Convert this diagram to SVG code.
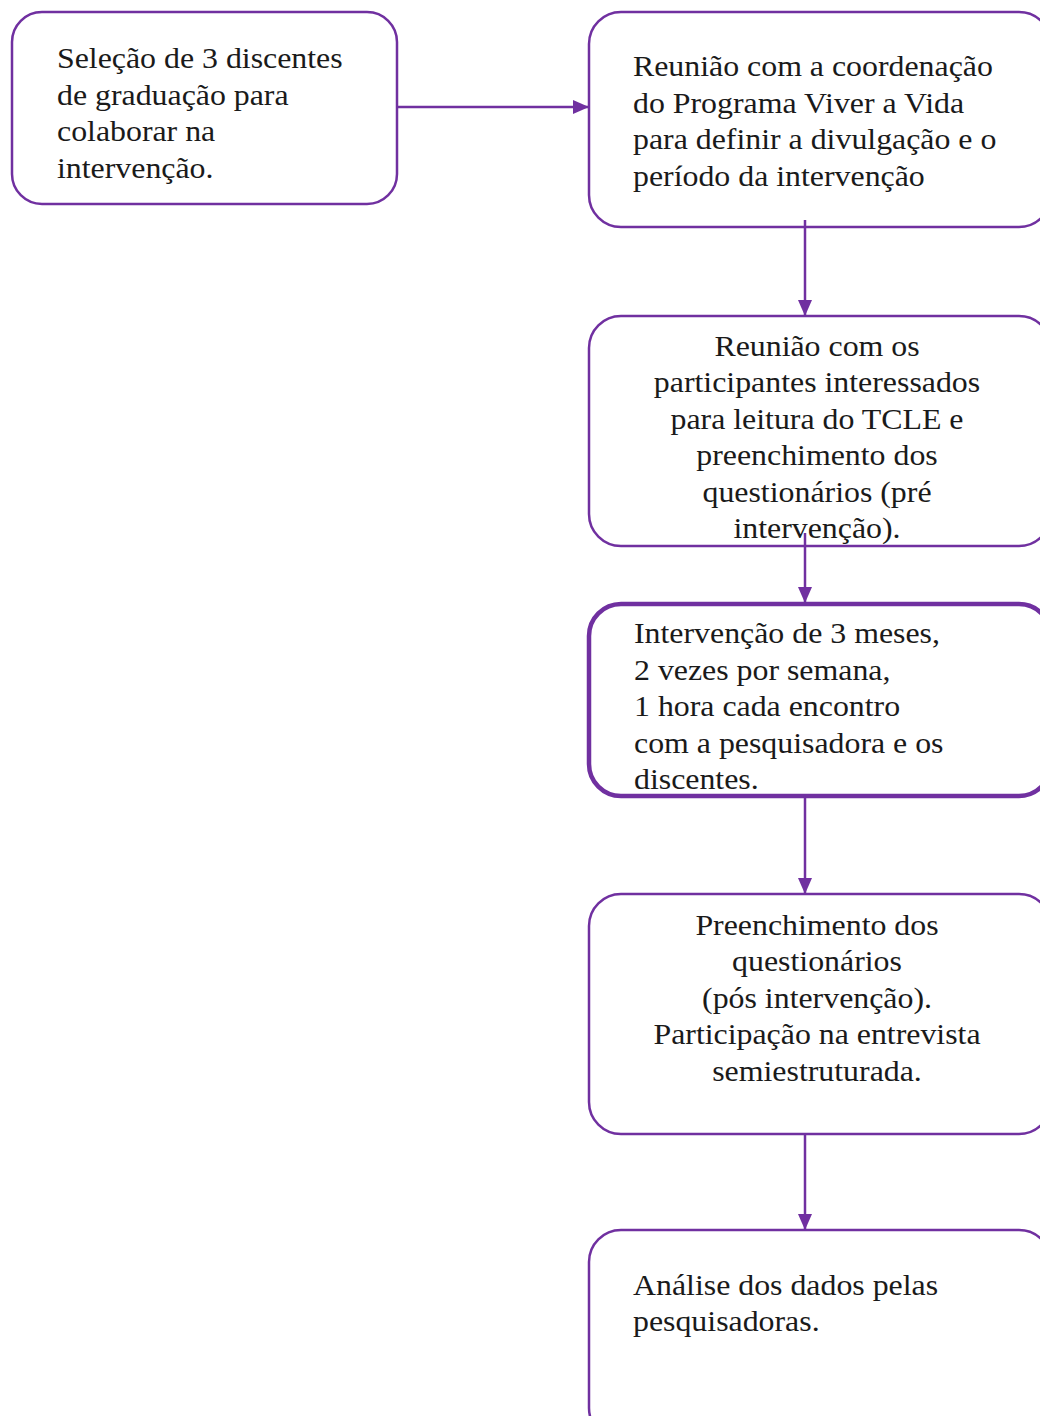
<svg xmlns="http://www.w3.org/2000/svg" width="1040" height="1416" viewBox="0 0 1040 1416">
<style>
.box{fill:#fff;stroke:#7030A0;stroke-width:2.5}
.thick{stroke-width:4.5}
.t{font-family:"Liberation Serif","Times New Roman",serif;font-size:29.5px;fill:#1a1a1a}
.c{text-anchor:middle}
.conn{stroke:#7030A0;stroke-width:2.5;fill:none}
</style>
<defs>
<marker id="a" markerWidth="16" markerHeight="16" refX="16" refY="8" orient="auto" markerUnits="userSpaceOnUse" viewBox="0 0 16 16">
<path d="M0,1 L16,8 L0,15 z" fill="#7030A0"/>
</marker>
</defs>
<g id="n1">
<rect class="box" x="12" y="12" width="385" height="192" rx="30"/>
<text class="t" transform="translate(57 68) scale(1.08 1)">Seleção de 3 discentes</text>
<text class="t" transform="translate(57 105) scale(1.08 1)">de graduação para</text>
<text class="t" transform="translate(57 141) scale(1.08 1)">colaborar na</text>
<text class="t" transform="translate(57 178) scale(1.08 1)">intervenção.</text>
</g>
<g id="n2">
<rect class="box" x="589" y="12" width="462" height="215" rx="32"/>
<text class="t" transform="translate(633 76) scale(1.08 1)">Reunião com a coordenação</text>
<text class="t" transform="translate(633 113) scale(1.08 1)">do Programa Viver a Vida</text>
<text class="t" transform="translate(633 149) scale(1.08 1)">para definir a divulgação e o</text>
<text class="t" transform="translate(633 186) scale(1.08 1)">período da intervenção</text>
</g>
<g id="n3">
<rect class="box" x="589" y="316" width="462" height="230" rx="32"/>
<text class="t c" transform="translate(817 356) scale(1.08 1)">Reunião com os</text>
<text class="t c" transform="translate(817 392) scale(1.08 1)">participantes interessados</text>
<text class="t c" transform="translate(817 429) scale(1.08 1)">para leitura do TCLE e</text>
<text class="t c" transform="translate(817 465) scale(1.08 1)">preenchimento dos</text>
<text class="t c" transform="translate(817 502) scale(1.08 1)">questionários (pré</text>
<text class="t c" transform="translate(817 538) scale(1.08 1)">intervenção).</text>
</g>
<g id="n4">
<rect class="box thick" x="589" y="604" width="462" height="192" rx="32"/>
<text class="t" transform="translate(634 643) scale(1.08 1)">Intervenção de 3 meses,</text>
<text class="t" transform="translate(634 680) scale(1.08 1)">2 vezes por semana,</text>
<text class="t" transform="translate(634 716) scale(1.08 1)">1 hora cada encontro</text>
<text class="t" transform="translate(634 753) scale(1.08 1)">com a pesquisadora e os</text>
<text class="t" transform="translate(634 789) scale(1.08 1)">discentes.</text>
</g>
<g id="n5">
<rect class="box" x="589" y="894" width="462" height="240" rx="32"/>
<text class="t c" transform="translate(817 935) scale(1.08 1)">Preenchimento dos</text>
<text class="t c" transform="translate(817 971) scale(1.08 1)">questionários</text>
<text class="t c" transform="translate(817 1008) scale(1.08 1)">(pós intervenção).</text>
<text class="t c" transform="translate(817 1044) scale(1.08 1)">Participação na entrevista</text>
<text class="t c" transform="translate(817 1081) scale(1.08 1)">semiestruturada.</text>
</g>
<g id="n6">
<rect class="box" x="589" y="1230" width="462" height="210" rx="32"/>
<text class="t" transform="translate(633 1295) scale(1.08 1)">Análise dos dados pelas</text>
<text class="t" transform="translate(633 1331) scale(1.08 1)">pesquisadoras.</text>
</g>
<g id="connectors">
<line class="conn" x1="397" y1="107" x2="589" y2="107" marker-end="url(#a)"/>
<line class="conn" x1="805" y1="220" x2="805" y2="316" marker-end="url(#a)"/>
<line class="conn" x1="805" y1="533" x2="805" y2="603" marker-end="url(#a)"/>
<line class="conn" x1="805" y1="797" x2="805" y2="894" marker-end="url(#a)"/>
<line class="conn" x1="805" y1="1134" x2="805" y2="1230" marker-end="url(#a)"/>
</g>
</svg>
